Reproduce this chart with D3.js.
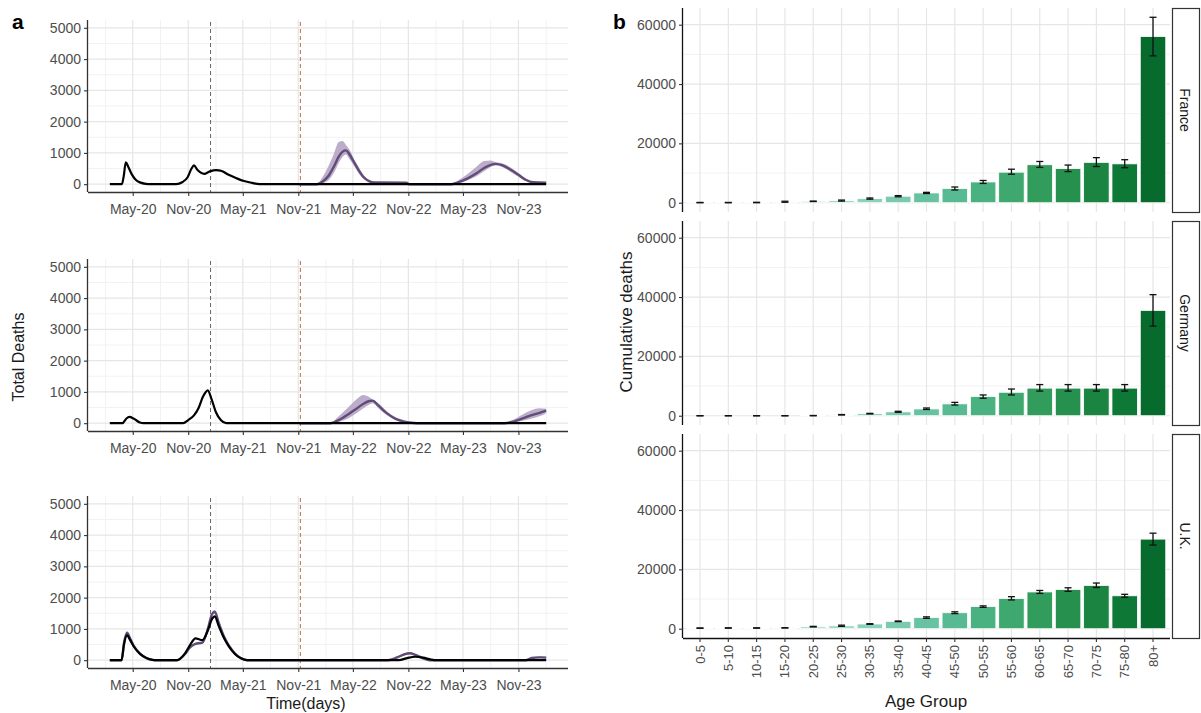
<!DOCTYPE html>
<html>
<head>
<meta charset="utf-8">
<script src="https://cdn.jsdelivr.net/npm/d3@7"></script>
<style>
  body { margin: 0; background: #fff; }
  text { font-family: "Liberation Sans", Arial, sans-serif; }
</style>
</head>
<body>
<script>
// ---- panel a: daily deaths, observed (black) and projected (purple, with band)
const countries = ["France", "Germany", "U.K."];

const franceObserved = [
  ["2020-02-15", 0], ["2020-03-26", 0], ["2020-04-01", 250], ["2020-04-08", 700], ["2020-04-16", 560],
  ["2020-04-27", 330], ["2020-05-10", 150], ["2020-05-27", 50], ["2020-06-14", 10], ["2020-06-27", 0],
  ["2020-09-22", 0], ["2020-10-12", 60], ["2020-10-30", 220], ["2020-11-12", 500], ["2020-11-20", 600],
  ["2020-12-02", 450], ["2020-12-24", 330], ["2021-01-12", 410], ["2021-02-01", 450], ["2021-02-20", 420],
  ["2021-03-15", 300], ["2021-04-10", 190], ["2021-05-05", 100], ["2021-06-01", 40], ["2021-06-25", 0],
  ["2024-02-01", 0]
];
const franceProjected = [ // date, mid, low, high
  ["2021-11-05", 0, 0, 0], ["2022-01-01", 0, 0, 10], ["2022-01-20", 80, 30, 220], ["2022-02-10", 280, 130, 600],
  ["2022-02-28", 580, 380, 1000], ["2022-03-15", 880, 680, 1350], ["2022-03-28", 1040, 870, 1380],
  ["2022-04-08", 1080, 950, 1250], ["2022-04-20", 950, 800, 1100], ["2022-05-05", 700, 580, 800],
  ["2022-05-20", 450, 350, 550], ["2022-06-05", 230, 170, 300], ["2022-06-25", 90, 60, 130],
  ["2022-07-10", 55, 45, 70], ["2022-10-25", 50, 45, 55], ["2022-11-05", 0, 0, 0], ["2023-03-25", 0, 0, 0],
  ["2023-04-15", 60, 30, 120], ["2023-05-15", 180, 120, 320], ["2023-06-15", 350, 250, 560],
  ["2023-07-10", 520, 410, 740], ["2023-08-01", 620, 550, 760], ["2023-08-18", 650, 600, 700],
  ["2023-09-10", 600, 540, 660], ["2023-10-05", 470, 400, 540], ["2023-11-01", 300, 240, 360],
  ["2023-11-25", 140, 100, 180], ["2023-12-20", 60, 45, 80], ["2024-02-01", 50, 40, 60]
];

const germanyObserved = [
  ["2020-02-15", 0], ["2020-03-28", 0], ["2020-04-10", 150], ["2020-04-20", 200], ["2020-05-05", 140],
  ["2020-05-25", 20], ["2020-06-05", 0], ["2020-10-15", 0], ["2020-11-01", 100], ["2020-11-20", 250],
  ["2020-12-05", 480], ["2020-12-20", 850], ["2021-01-05", 1050], ["2021-01-17", 780], ["2021-02-01", 350],
  ["2021-02-17", 100], ["2021-03-07", 0], ["2024-02-01", 0]
];
const germanyProjected = [
  ["2021-11-05", 0, 0, 0], ["2022-02-15", 0, 0, 0], ["2022-03-15", 100, 40, 220], ["2022-04-15", 280, 150, 500],
  ["2022-05-15", 480, 330, 780], ["2022-06-05", 620, 480, 900], ["2022-06-25", 710, 600, 830],
  ["2022-07-05", 720, 640, 760], ["2022-07-25", 560, 480, 640], ["2022-08-20", 330, 270, 400],
  ["2022-09-20", 140, 100, 180], ["2022-10-20", 50, 35, 65], ["2022-11-05", 20, 10, 30], ["2022-12-01", 0, 0, 0],
  ["2023-09-15", 0, 0, 0], ["2023-10-15", 50, 20, 110], ["2023-11-15", 150, 80, 280],
  ["2023-12-15", 260, 150, 420], ["2024-01-10", 330, 220, 480], ["2024-02-01", 400, 320, 460]
];

const ukObserved = [
  ["2020-02-15", 0], ["2020-03-25", 0], ["2020-04-02", 500], ["2020-04-12", 800], ["2020-04-22", 650],
  ["2020-05-05", 430], ["2020-05-25", 200], ["2020-06-15", 70], ["2020-07-05", 10], ["2020-07-15", 0],
  ["2020-09-25", 0], ["2020-10-20", 200], ["2020-11-08", 500], ["2020-11-25", 700], ["2020-12-18", 640],
  ["2021-01-05", 950], ["2021-01-18", 1300], ["2021-01-28", 1400], ["2021-02-10", 1100], ["2021-02-28", 700],
  ["2021-03-15", 450], ["2021-04-05", 200], ["2021-04-25", 60], ["2021-05-15", 0], ["2022-10-01", 0],
  ["2022-10-25", 60], ["2022-11-25", 110], ["2022-12-20", 80], ["2023-01-15", 20], ["2023-02-01", 0],
  ["2024-02-01", 0]
];
const ukProjected = [
  ["2020-02-15", 0, 0, 0], ["2020-03-25", 0, 0, 0], ["2020-04-02", 550, 520, 580], ["2020-04-12", 880, 840, 920],
  ["2020-04-22", 700, 670, 730], ["2020-05-05", 450, 430, 470], ["2020-05-25", 210, 195, 225],
  ["2020-06-15", 70, 60, 80], ["2020-07-05", 10, 5, 15], ["2020-07-15", 0, 0, 0], ["2020-09-25", 0, 0, 0],
  ["2020-10-20", 180, 160, 200], ["2020-11-08", 420, 390, 450], ["2020-11-25", 520, 490, 550],
  ["2020-12-18", 560, 530, 590], ["2021-01-05", 1000, 960, 1040], ["2021-01-18", 1450, 1400, 1500],
  ["2021-01-28", 1550, 1500, 1600], ["2021-02-10", 1200, 1150, 1250], ["2021-02-28", 750, 720, 780],
  ["2021-03-15", 480, 460, 500], ["2021-04-05", 210, 200, 220], ["2021-04-25", 60, 55, 65],
  ["2021-05-15", 0, 0, 0], ["2022-08-25", 0, 0, 0], ["2022-09-25", 90, 60, 120], ["2022-10-20", 190, 160, 230],
  ["2022-11-05", 220, 190, 260], ["2022-11-25", 170, 140, 200], ["2022-12-20", 60, 40, 80],
  ["2023-01-10", 0, 0, 0], ["2023-11-25", 0, 0, 0], ["2023-12-15", 70, 50, 100], ["2024-01-10", 90, 70, 120],
  ["2024-02-01", 80, 60, 110]
];

const observedSeries = [franceObserved, germanyObserved, ukObserved];
const projectedSeries = [franceProjected, germanyProjected, ukProjected];
const interventionDate = "2021-01-14";   // grey dashed line
const projectionStart = "2021-11-08";    // orange dashed line

const dateTicks = ["2020-05-01", "2020-11-01", "2021-05-01", "2021-11-01", "2022-05-01", "2022-11-01", "2023-05-01", "2023-11-01"];
const dateMinor = ["2020-02-01", "2020-08-01", "2021-02-01", "2021-08-01", "2022-02-01", "2022-08-01", "2023-02-01", "2023-08-01", "2024-02-01"];
const deathTicks = [0, 1000, 2000, 3000, 4000, 5000];
const deathMinor = [500, 1500, 2500, 3500, 4500];

// ---- panel b: cumulative deaths by age group, mean and error bar
const ageGroups = ["0-5", "5-10", "10-15", "15-20", "20-25", "25-30", "30-35", "35-40", "40-45",
  "45-50", "50-55", "55-60", "60-65", "65-70", "70-75", "75-80", "80+"];
const franceAge = [50, 50, 80, 300, 500, 700, 1400, 2200, 3300, 4800, 7000, 10300, 12800, 11500, 13600, 13100, 56000];
const franceLow = [0, 0, 0, 150, 400, 550, 1200, 2000, 3100, 4300, 6500, 9600, 11900, 10500, 12200, 11800, 49500];
const franceHigh = [100, 100, 150, 500, 550, 900, 1600, 2400, 3500, 5300, 7500, 11300, 13900, 12700, 15200, 14500, 62500];
const germanyAge = [0, 0, 0, 0, 50, 300, 700, 1300, 2300, 4000, 6500, 7900, 9300, 9300, 9300, 9300, 35500];
const germanyLow = [0, 0, 0, 0, 0, 250, 600, 1150, 2100, 3600, 5900, 7000, 8300, 8300, 8300, 8300, 30200];
const germanyHigh = [0, 0, 0, 0, 80, 400, 800, 1500, 2600, 4500, 7000, 9000, 10500, 10500, 10500, 10500, 40800];
const ukAge = [200, 250, 250, 300, 700, 1000, 1600, 2500, 3800, 5400, 7500, 10200, 12400, 13200, 14600, 11100, 30200];
const ukLow = [150, 200, 200, 250, 600, 800, 1500, 2400, 3500, 5100, 7200, 9700, 11900, 12600, 13900, 10600, 28200];
const ukHigh = [250, 300, 300, 350, 800, 1200, 1700, 2600, 4000, 5700, 7700, 10800, 12900, 13800, 15400, 11600, 32200];
const ageValues = [franceAge, germanyAge, ukAge];
const ageLows = [franceLow, germanyLow, ukLow];
const ageHighs = [franceHigh, germanyHigh, ukHigh];
const cumTicks = [0, 20000, 40000, 60000];
const cumMinor = [10000, 30000, 50000];

const parse = d3.timeParse("%Y-%m-%d");
const fmt = d3.timeFormat("%b-%y");
const numFmt = d3.format("d");

const svg = d3.select("body").append("svg")
    .attr("width", 1201)
    .attr("height", 713);
svg.append("rect").attr("width", 1201).attr("height", 713).attr("fill", "#fff");

const axisCol = "#333", tickCol = "#4d4d4d";

// ================= panel a =================
const allDates = observedSeries.flat().map(d => parse(d[0]));
const [d0, d1] = d3.extent(allDates);
const span = d1 - d0;
const x = d3.scaleTime()
    .domain([new Date(+d0 - span * 0.05), new Date(+d1 + span * 0.05)])
    .range([88, 568]);

const bottoms = [192, 431, 668], panelH = 172;

bottoms.forEach((bottom, i) => {
  const top = bottom - panelH;
  const y = d3.scaleLinear().domain([-250, 5250]).range([bottom, top]);
  const g = svg.append("g");

  // grid
  g.selectAll(".vmin").data(dateMinor).enter().append("line")
      .attr("x1", d => x(parse(d))).attr("x2", d => x(parse(d)))
      .attr("y1", top).attr("y2", bottom)
      .attr("stroke", "#f2f2f2").attr("stroke-width", 1);
  g.selectAll(".hmin").data(deathMinor).enter().append("line")
      .attr("x1", 88).attr("x2", 568)
      .attr("y1", d => y(d)).attr("y2", d => y(d))
      .attr("stroke", "#f2f2f2").attr("stroke-width", 1);
  g.selectAll(".vmaj").data(dateTicks).enter().append("line")
      .attr("x1", d => x(parse(d))).attr("x2", d => x(parse(d)))
      .attr("y1", top).attr("y2", bottom)
      .attr("stroke", "#e6e6e6").attr("stroke-width", 1.2);
  g.selectAll(".hmaj").data(deathTicks).enter().append("line")
      .attr("x1", 88).attr("x2", 568)
      .attr("y1", d => y(d)).attr("y2", d => y(d))
      .attr("stroke", "#e6e6e6").attr("stroke-width", 1.2);

  // dashed reference lines
  g.append("line")
      .attr("x1", x(parse(interventionDate))).attr("x2", x(parse(interventionDate)))
      .attr("y1", top + 2).attr("y2", bottom)
      .attr("stroke", "#666").attr("stroke-width", 1).attr("stroke-dasharray", "4,3");
  g.append("line")
      .attr("x1", x(parse(projectionStart))).attr("x2", x(parse(projectionStart)))
      .attr("y1", top + 2).attr("y2", bottom)
      .attr("stroke", "#c47a55").attr("stroke-width", 1.1).attr("stroke-dasharray", "4,3");

  // projection band and line
  const proj = projectedSeries[i].map(d => ({date: parse(d[0]), mid: d[1], lo: d[2], hi: d[3]}));
  g.append("path")
      .datum(proj)
      .attr("fill", "#b5a4c5")
      .attr("opacity", 0.9)
      .attr("d", d3.area().curve(d3.curveMonotoneX)
        .x(d => x(d.date)).y0(d => y(d.lo)).y1(d => y(d.hi)));
  g.append("path")
      .datum(proj)
      .attr("fill", "none")
      .attr("stroke", "#614c78")
      .attr("stroke-width", 2.4)
      .attr("d", d3.line().curve(d3.curveMonotoneX).x(d => x(d.date)).y(d => y(d.mid)));

  // observed line
  const obs = observedSeries[i].map(d => ({date: parse(d[0]), v: d[1]}));
  g.append("path")
      .datum(obs)
      .attr("fill", "none")
      .attr("stroke", "#000")
      .attr("stroke-width", 2.2)
      .attr("d", d3.line().curve(d3.curveMonotoneX).x(d => x(d.date)).y(d => y(d.v)));

  // axes
  const ax = g.append("g").attr("transform", `translate(0,${bottom})`)
      .call(d3.axisBottom(x).tickValues(dateTicks.map(parse)).tickFormat(fmt).tickSize(4).tickSizeOuter(0));
  const ay = g.append("g").attr("transform", "translate(88,0)")
      .call(d3.axisLeft(y).tickValues(deathTicks).tickFormat(numFmt).tickSize(4).tickSizeOuter(0));
  [ax, ay].forEach(a => {
    a.select(".domain").attr("stroke", axisCol).attr("stroke-width", 1.3);
    a.selectAll(".tick line").attr("stroke", axisCol).attr("stroke-width", 1.1);
    a.selectAll(".tick text").attr("fill", tickCol).style("font-size", "14px")
        .style("font-family", '"Liberation Sans", Arial, sans-serif');
  });
  ax.select(".domain").attr("d", `M88,0.5H568`);
  ay.select(".domain").attr("d", `M-0.5,${top}V${bottom}`);
  ax.selectAll(".tick text").attr("dy", "1.1em");
});

svg.append("text").attr("x", 12).attr("y", 29)
    .style("font-size", "21px").style("font-weight", "bold").text("a");
svg.append("text")
    .attr("transform", "translate(24,357) rotate(-90)")
    .attr("text-anchor", "middle")
    .attr("fill", "#1a1a1a")
    .style("font-size", "16px")
    .text("Total Deaths");
svg.append("text")
    .attr("x", 306).attr("y", 709)
    .attr("text-anchor", "middle")
    .attr("fill", "#1a1a1a")
    .style("font-size", "16px")
    .text("Time(days)");

// ================= panel b =================
const xb = d3.scaleBand().domain(ageGroups).range([683, 1170]).paddingInner(0.1).paddingOuter(0.15);
const colorT = d3.scaleLinear().domain([0, ageGroups.length - 1]).range([0.13, 0.875]);
const rTops = [8, 221, 434], rH = 204;

rTops.forEach((top, i) => {
  const bottom = top + rH;
  const y = d3.scaleLinear().domain([-3125, 65625]).range([bottom, top]);
  const g = svg.append("g");

  g.selectAll(".hmin").data(cumMinor).enter().append("line")
      .attr("x1", 683).attr("x2", 1170)
      .attr("y1", d => y(d)).attr("y2", d => y(d))
      .attr("stroke", "#f2f2f2").attr("stroke-width", 1);
  g.selectAll(".hmaj").data(cumTicks).enter().append("line")
      .attr("x1", 683).attr("x2", 1170)
      .attr("y1", d => y(d)).attr("y2", d => y(d))
      .attr("stroke", "#e6e6e6").attr("stroke-width", 1.2);
  g.selectAll(".vmaj").data(ageGroups).enter().append("line")
      .attr("x1", d => xb(d) + xb.bandwidth() / 2).attr("x2", d => xb(d) + xb.bandwidth() / 2)
      .attr("y1", top).attr("y2", bottom)
      .attr("stroke", "#e6e6e6").attr("stroke-width", 1.2);

  const vals = ageValues[i], lows = ageLows[i], highs = ageHighs[i];
  g.selectAll(".bar").data(ageGroups).enter().append("rect")
      .attr("x", d => xb(d))
      .attr("width", xb.bandwidth())
      .attr("y", (d, j) => y(vals[j]))
      .attr("height", (d, j) => y(0) - y(vals[j]))
      .attr("fill", (d, j) => d3.interpolateBuGn(colorT(j)))
      .attr("stroke", "#fff").attr("stroke-width", 0.8);

  const eb = g.selectAll(".err").data(ageGroups).enter().append("g")
      .attr("transform", d => `translate(${xb(d) + xb.bandwidth() / 2},0)`)
      .attr("stroke", "#111").attr("stroke-width", 1.3);
  eb.append("line").attr("y1", (d, j) => y(lows[j])).attr("y2", (d, j) => y(highs[j]));
  eb.append("line").attr("x1", -3.5).attr("x2", 3.5).attr("y1", (d, j) => y(lows[j])).attr("y2", (d, j) => y(lows[j]));
  eb.append("line").attr("x1", -3.5).attr("x2", 3.5).attr("y1", (d, j) => y(highs[j])).attr("y2", (d, j) => y(highs[j]));

  const ay = g.append("g").attr("transform", "translate(683,0)")
      .call(d3.axisLeft(y).tickValues(cumTicks).tickFormat(numFmt).tickSize(4).tickSizeOuter(0));
  ay.select(".domain").attr("stroke", "#111").attr("stroke-width", 1.3).attr("d", `M-0.5,${top}V${bottom}`);
  ay.selectAll(".tick line").attr("stroke", axisCol).attr("stroke-width", 1.1);
  ay.selectAll(".tick text").attr("fill", tickCol).style("font-size", "14px")
      .style("font-family", '"Liberation Sans", Arial, sans-serif');

  // facet strip
  g.append("rect")
      .attr("x", 1172.5).attr("y", top + 0.5)
      .attr("width", 27).attr("height", rH)
      .attr("fill", "#fff").attr("stroke", "#333").attr("stroke-width", 1.2);
  g.append("text")
      .attr("transform", `translate(${1180},${top + rH / 2}) rotate(90)`)
      .attr("text-anchor", "middle")
      .attr("fill", "#1a1a1a")
      .style("font-size", "14px")
      .text(countries[i]);

  if (i === 2) {
    const ax = g.append("g").attr("transform", `translate(0,${bottom})`)
        .call(d3.axisBottom(xb).tickSize(4).tickSizeOuter(0));
    ax.select(".domain").attr("stroke", "#111").attr("stroke-width", 1.3).attr("d", "M683,0.5H1170");
    ax.selectAll(".tick line").attr("stroke", axisCol).attr("stroke-width", 1.1);
    ax.selectAll(".tick text")
        .attr("fill", tickCol)
        .style("font-size", "13px")
        .style("font-family", '"Liberation Sans", Arial, sans-serif')
        .attr("transform", "rotate(-90)")
        .attr("text-anchor", "end")
        .attr("x", -7).attr("y", 0).attr("dy", "0.35em");
  }
});

svg.append("text").attr("x", 613).attr("y", 29)
    .style("font-size", "21px").style("font-weight", "bold").text("b");
svg.append("text")
    .attr("transform", "translate(632,322) rotate(-90)")
    .attr("text-anchor", "middle")
    .attr("fill", "#1a1a1a")
    .style("font-size", "17px")
    .text("Cumulative deaths");
svg.append("text")
    .attr("x", 926).attr("y", 707)
    .attr("text-anchor", "middle")
    .attr("fill", "#1a1a1a")
    .style("font-size", "17px")
    .text("Age Group");
</script>
</body>
</html>
